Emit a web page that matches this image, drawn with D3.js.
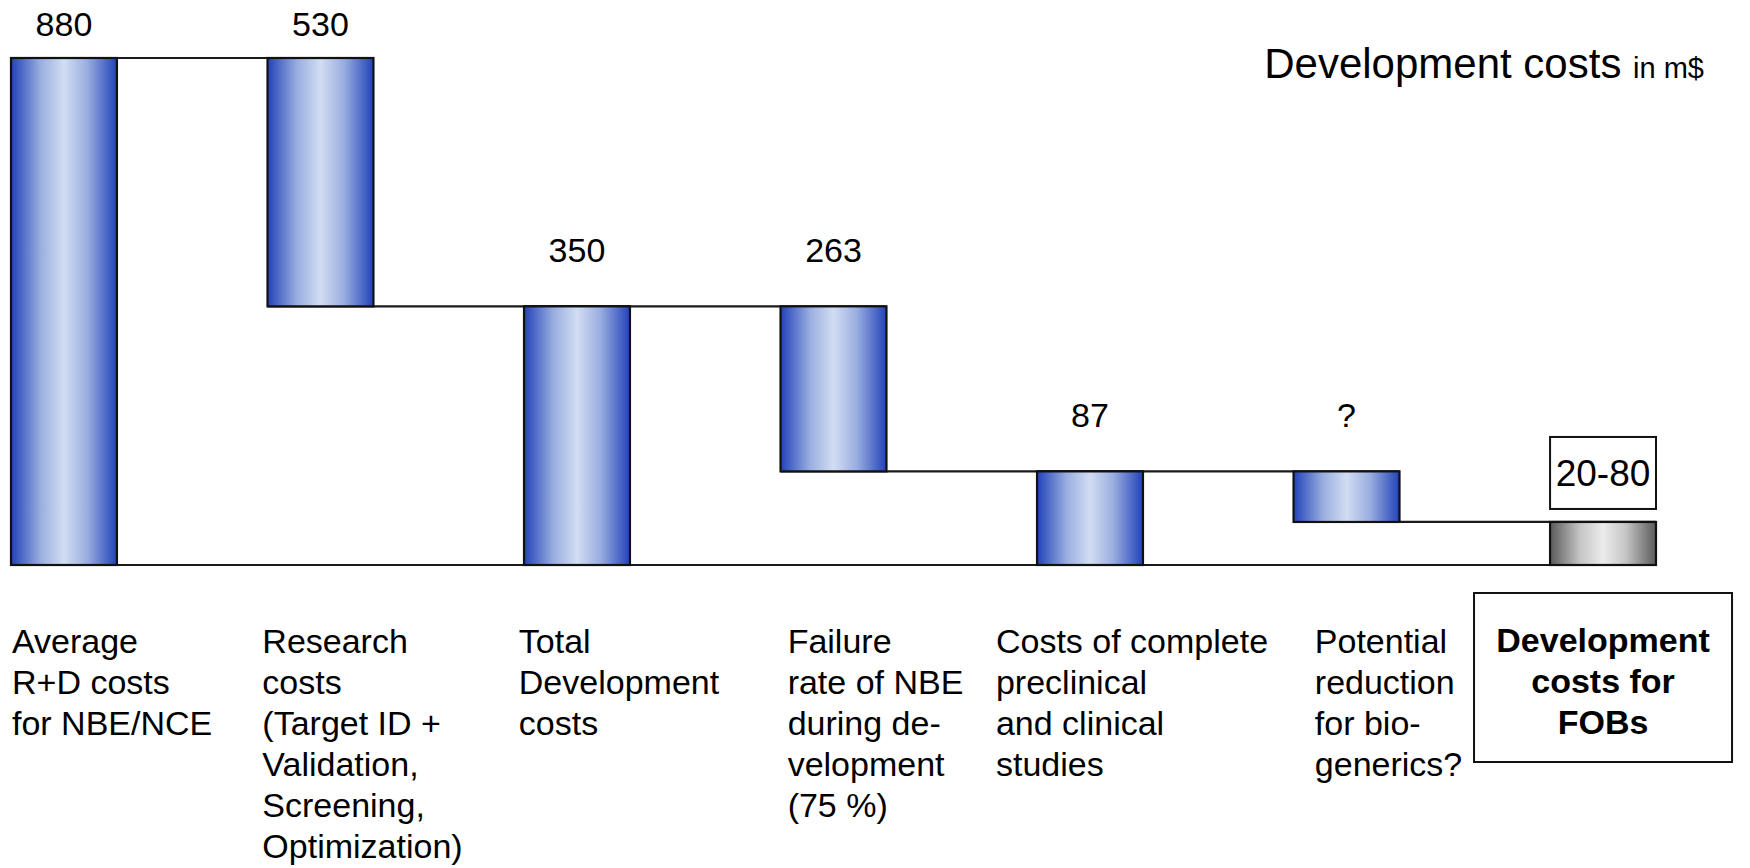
<!DOCTYPE html>
<html>
<head>
<meta charset="utf-8">
<script src="https://cdn.jsdelivr.net/npm/d3@7"></script>
<style>
  html, body { margin: 0; padding: 0; background: #fff; }
  svg { display: block; font-family: "Liberation Sans", Arial, sans-serif; }
</style>
</head>
<body>
<svg id="chart" width="1750" height="868"></svg>
<script>
// ---------- data ----------
const categories = ["avg", "research", "totalDev", "failure", "clinical", "reduction", "fob"];
const stepTypes  = ["total", "decrease", "total", "decrease", "total", "decrease", "total"];
const values     = [880, 530, 350, 263, 87, 57, 30];           // 57 / 30: estimated ("?" and "20-80")
const valueLabels = ["880", "530", "350", "263", "87", "?", "20-80"];
const categoryLines = [
  ["Average", "R+D costs", "for NBE/NCE"],
  ["Research", "costs", "(Target ID +", "Validation,", "Screening,", "Optimization)"],
  ["Total", "Development", "costs"],
  ["Failure", "rate of NBE", "during de-", "velopment", "(75 %)"],
  ["Costs of complete", "preclinical", "and clinical", "studies"],
  ["Potential", "reduction", "for bio-", "generics?"],
  ["Development", "costs for", "FOBs"]
];
const titleMain = "Development costs";
const titleUnit = "in m$";

// ---------- build waterfall ----------
let running = 0;
const steps = categories.map((c, i) => {
  let start, end;
  if (stepTypes[i] === "total") { start = 0; end = values[i]; running = values[i]; }
  else { start = running; end = running - values[i]; running = end; }
  return { cat: c, i, type: stepTypes[i], lo: Math.min(start, end), hi: Math.max(start, end), level: end, label: valueLabels[i], lines: categoryLines[i] };
});

const svg = d3.select("#chart");

const x = d3.scaleBand().domain(categories).range([11, 1656]).paddingInner(0.587).paddingOuter(0);
const y = d3.scalePow().exponent(0.73).domain([0, 880]).range([565, 58]);

// gradients
const defs = svg.append("defs");
function grad(id, edge, mid, center) {
  const g = defs.append("linearGradient").attr("id", id).attr("x1", "0%").attr("x2", "100%").attr("y1", "0%").attr("y2", "0%");
  [[0, edge], [0.28, mid], [0.5, center], [0.72, mid], [1, edge]].forEach(([o, c]) =>
    g.append("stop").attr("offset", o).attr("stop-color", c));
}
grad("blueGrad", "#2242b9", "#9aaee0", "#d2ddf2");
grad("grayGrad", "#5a5a5a", "#c4c4c4", "#ececec");

// connector lines
const lineG = svg.append("g").attr("stroke", "#1a1a1a").attr("stroke-width", 2.2);
for (let k = 0; k < steps.length - 1; k++) {
  const a = steps[k], b = steps[k + 1];
  lineG.append("line")
    .attr("x1", x(a.cat)).attr("x2", x(b.cat) + x.bandwidth())
    .attr("y1", y(a.level)).attr("y2", y(a.level));
}
lineG.append("line")
  .attr("x1", x(categories[0])).attr("x2", x(categories[categories.length - 1]) + x.bandwidth())
  .attr("y1", y(0)).attr("y2", y(0));

// bars
svg.append("g").selectAll("rect").data(steps).join("rect")
  .attr("x", d => x(d.cat))
  .attr("width", x.bandwidth())
  .attr("y", d => y(d.hi))
  .attr("height", d => y(d.lo) - y(d.hi))
  .attr("fill", d => d.i === steps.length - 1 ? "url(#grayGrad)" : "url(#blueGrad)")
  .attr("stroke", "#111")
  .attr("stroke-width", 2.2);

// value labels
const last = steps[steps.length - 1];
svg.append("g").selectAll("text").data(steps.slice(0, -1)).join("text")
  .attr("x", d => x(d.cat) + x.bandwidth() / 2)
  .attr("y", d => Math.max(36, y(d.hi) - 44))
  .attr("text-anchor", "middle")
  .attr("font-size", 34)
  .attr("fill", "#000")
  .text(d => d.label);

// boxed label for final bar
const boxH = 72, boxBottom = y(last.hi) - 13;
svg.append("rect")
  .attr("x", x(last.cat)).attr("width", x.bandwidth())
  .attr("y", boxBottom - boxH).attr("height", boxH)
  .attr("fill", "#fff").attr("stroke", "#111").attr("stroke-width", 2);
svg.append("text")
  .attr("x", x(last.cat) + x.bandwidth() / 2)
  .attr("y", boxBottom - boxH / 2 + 13)
  .attr("text-anchor", "middle").attr("font-size", 37)
  .text(last.label);

// category labels
const lineH = 41, firstBase = 653;
steps.slice(0, -1).forEach(d => {
  const t = svg.append("text").attr("font-size", 34).attr("fill", "#000");
  d.lines.forEach((ln, j) => t.append("tspan").attr("x", 0).attr("y", firstBase + j * lineH).text(ln));
  let w = 0;
  t.selectAll("tspan").each(function () { w = Math.max(w, this.getComputedTextLength()); });
  const cx = x(d.cat) + x.bandwidth() / 2 + 42;
  t.attr("transform", `translate(${Math.max(12, cx - w / 2)},0)`);
});

// final boxed category label
const fcx = x(last.cat) + x.bandwidth() / 2;
svg.append("rect")
  .attr("x", fcx - 129).attr("width", 258)
  .attr("y", 593).attr("height", 169)
  .attr("fill", "#fff").attr("stroke", "#111").attr("stroke-width", 2);
const ft = svg.append("text").attr("font-size", 34).attr("font-weight", "bold").attr("text-anchor", "middle");
last.lines.forEach((ln, j) => ft.append("tspan").attr("x", fcx).attr("y", 652 + j * lineH).text(ln));

// title
const title = svg.append("text").attr("x", 1704).attr("y", 78).attr("text-anchor", "end").attr("fill", "#000");
title.append("tspan").attr("font-size", 42).text(titleMain + " ");
title.append("tspan").attr("font-size", 29).text(titleUnit);
</script>
</body>
</html>
